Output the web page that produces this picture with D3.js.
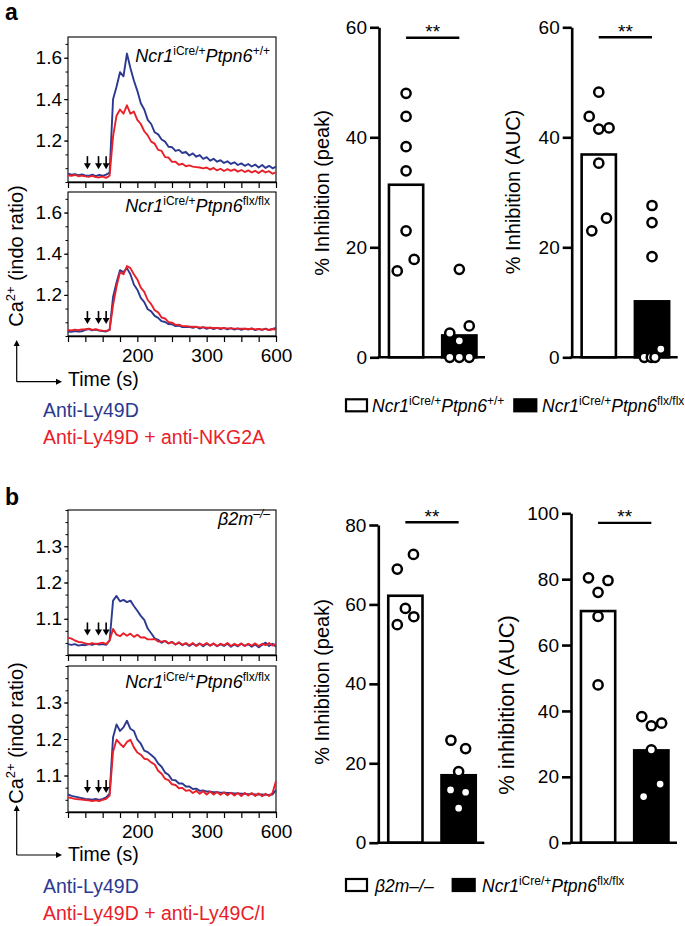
<!DOCTYPE html>
<html><head><meta charset="utf-8">
<script src="https://cdn.jsdelivr.net/npm/d3@7"></script>
<style>
body{margin:0;background:#fff}
svg text{font-family:"Liberation Sans",Arial,Helvetica,sans-serif;fill:#000}
</style>
</head><body>
<svg id="c" width="685" height="926"></svg>
<script>
// ---------- DATA ----------
const times = [100,105,110,115,120,125,130,135,140,145,150,155,160,165,170,175,180,185,190,195,200,205,210,215,220,225,230,235,240,245,250,255,260,265,270,275,280,285,290,295,300,305,310,315,320,325,330,335,340,345,350,355,360,365,370,375,380,385,390,395,400];

const aTopBlue = [1.040,1.035,1.038,1.033,1.036,1.032,1.030,1.035,1.028,1.034,1.030,1.036,1.045,1.40,1.46,1.53,1.51,1.62,1.55,1.49,1.44,1.38,1.35,1.30,1.28,1.24,1.23,1.205,1.195,1.17,1.168,1.15,1.155,1.14,1.145,1.128,1.138,1.122,1.13,1.112,1.12,1.103,1.112,1.098,1.105,1.092,1.1,1.087,1.095,1.082,1.09,1.078,1.087,1.075,1.084,1.07,1.082,1.068,1.078,1.066,1.074];
const aTopRed = [1.032,1.030,1.034,1.028,1.031,1.027,1.025,1.030,1.024,1.022,1.026,1.020,1.030,1.22,1.32,1.35,1.33,1.37,1.33,1.34,1.30,1.28,1.245,1.225,1.195,1.185,1.155,1.15,1.12,1.118,1.097,1.098,1.083,1.088,1.076,1.08,1.074,1.072,1.07,1.066,1.07,1.06,1.068,1.056,1.064,1.053,1.062,1.054,1.061,1.05,1.058,1.048,1.056,1.046,1.054,1.043,1.056,1.046,1.052,1.04,1.046];
const aBotBlue = [1.022,1.020,1.024,1.021,1.023,1.030,1.034,1.028,1.031,1.026,1.024,1.022,1.030,1.19,1.26,1.32,1.31,1.33,1.30,1.25,1.225,1.185,1.165,1.13,1.12,1.098,1.088,1.072,1.068,1.058,1.057,1.048,1.05,1.043,1.045,1.044,1.04,1.045,1.036,1.043,1.035,1.041,1.034,1.04,1.033,1.039,1.032,1.038,1.031,1.037,1.03,1.036,1.031,1.037,1.029,1.035,1.03,1.036,1.029,1.034,1.039];
const aBotRed = [1.030,1.027,1.031,1.028,1.032,1.033,1.036,1.030,1.033,1.028,1.026,1.025,1.030,1.15,1.24,1.31,1.30,1.34,1.33,1.30,1.275,1.235,1.215,1.175,1.155,1.125,1.115,1.09,1.085,1.067,1.065,1.054,1.055,1.048,1.048,1.046,1.045,1.044,1.042,1.042,1.04,1.04,1.039,1.039,1.038,1.038,1.037,1.037,1.036,1.036,1.035,1.035,1.034,1.035,1.032,1.034,1.031,1.035,1.029,1.034,1.03];
const bTopBlue = [1.030,1.028,1.030,1.026,1.028,1.027,1.030,1.028,1.031,1.029,1.030,1.028,1.040,1.150,1.163,1.148,1.152,1.146,1.150,1.135,1.122,1.108,1.097,1.073,1.060,1.046,1.042,1.034,1.039,1.032,1.036,1.029,1.034,1.027,1.032,1.025,1.031,1.026,1.032,1.024,1.031,1.026,1.031,1.024,1.030,1.025,1.031,1.023,1.029,1.024,1.031,1.025,1.030,1.023,1.029,1.021,1.028,1.034,1.025,1.031,1.023];
const bTopRed = [1.048,1.045,1.040,1.036,1.035,1.032,1.030,1.033,1.030,1.032,1.034,1.030,1.040,1.072,1.056,1.052,1.060,1.053,1.059,1.050,1.056,1.048,1.049,1.043,1.043,1.044,1.037,1.037,1.039,1.032,1.036,1.029,1.035,1.028,1.033,1.027,1.033,1.025,1.031,1.027,1.033,1.026,1.032,1.025,1.031,1.027,1.033,1.025,1.031,1.026,1.032,1.025,1.031,1.026,1.032,1.025,1.031,1.027,1.033,1.026,1.031];
const bBotBlue = [1.048,1.044,1.042,1.040,1.038,1.036,1.035,1.034,1.036,1.033,1.036,1.040,1.050,1.205,1.240,1.222,1.232,1.250,1.228,1.222,1.198,1.187,1.168,1.164,1.156,1.148,1.133,1.124,1.108,1.102,1.088,1.087,1.078,1.078,1.07,1.07,1.063,1.064,1.058,1.059,1.056,1.056,1.054,1.054,1.053,1.053,1.052,1.052,1.051,1.051,1.05,1.05,1.049,1.049,1.048,1.048,1.048,1.047,1.047,1.048,1.06];
const bBotRed = [1.040,1.038,1.036,1.035,1.034,1.033,1.032,1.030,1.032,1.030,1.033,1.036,1.045,1.165,1.198,1.187,1.178,1.192,1.198,1.177,1.163,1.157,1.146,1.144,1.136,1.13,1.113,1.105,1.091,1.087,1.076,1.074,1.065,1.066,1.058,1.06,1.052,1.058,1.05,1.057,1.048,1.056,1.048,1.055,1.047,1.054,1.046,1.053,1.045,1.052,1.044,1.052,1.045,1.052,1.044,1.051,1.043,1.05,1.044,1.052,1.085];

const arrowTimes = [128, 144, 155];
const xTickValues = [200, 300, 400];
const xTickLabels = ["200", "300", "600"];
const aYTicks = [1.2, 1.4, 1.6];
const bYTicks = [1.1, 1.2, 1.3];

const groups = ["ctrl", "ko"];
const aPeakCtrl = [48.0, 43.8, 38.3, 33.9, 23.0, 15.7, 17.8];
const aPeakKO   = [16.0, 5.7, 4.4, 3.0, 0, 0, 0];
const aPeakMeans = [31.6, 4.2];
const aAucCtrl = [48.2, 43.8, 41.5, 41.7, 35.3, 25.3, 23.0];
const aAucKO   = [27.6, 24.5, 18.3, 1.5, 0, 0, 0];
const aAucMeans = [37.1, 10.4];
const bPeakCtrl = [68.9, 72.6, 59.0, 54.9, 56.9];
const bPeakKO   = [25.8, 23.7, 17.9, 13.3, 12.7, 8.7];
const bPeakMeans = [62.5, 17.3];
const bAucCtrl = [80.4, 79.6, 76.0, 68.7, 47.9];
const bAucKO   = [38.3, 35.5, 36.3, 28.2, 17.8, 14.0];
const bAucMeans = [70.7, 28.4];
const aBarTicks = [0, 20, 40, 60];
const bPeakTicks = [0, 20, 40, 60, 80];
const bAucTicks = [0, 20, 40, 60, 80, 100];
const sigLabel = "**";

// ---------- LAYOUT (not data) ----------
const jit = {
  aPeakCtrl: [0,0,0,0,0,-0.24,0.22], aPeakKO: [0,0.27,-0.26,0,-0.26,0,0.27],
  aAucCtrl: [0,-0.26,0,0.28,0,0.21,-0.19], aAucKO: [0,0,0,0.24,-0.21,-0.02,0.08],
  bPeakCtrl: [-0.22,0.22,0,-0.22,0.23], bPeakKO: [-0.21,0.19,0,-0.22,0.19,0],
  bAucCtrl: [-0.26,0.27,0,0,0], bAucKO: [-0.26,0,0.28,0,0.24,-0.21]
};
const BLUE = "#2b3990", RED = "#e8202a";
const svg = d3.select("#c");

function styleAxisText(g, size) {
  g.selectAll("text").attr("font-size", size).attr("font-family", '"Liberation Sans",Arial,sans-serif').attr("fill", "#000");
  g.attr("font-family", null).attr("font-size", null);
}

function richText(parent, x, y, parts, opts) {
  const t = parent.append("text").attr("x", x).attr("y", y)
    .attr("text-anchor", opts.anchor || "start").attr("font-size", opts.size);
  let shift = 0;
  parts.forEach(p => {
    const ts = t.append("tspan").text(p.t);
    if (p.it) ts.attr("font-style", "italic");
    const target = p.sup ? -opts.sup : 0;
    if (target !== shift) { ts.attr("dy", target - shift); shift = target; }
    if (p.sup) ts.attr("font-size", opts.supSize);
  });
  return t;
}

const ncrWT = [{t:"Ncr1",it:true},{t:"iCre/+",sup:true},{t:"Ptpn6",it:true},{t:"+/+",sup:true}];
const ncrKO = [{t:"Ncr1",it:true},{t:"iCre/+",sup:true},{t:"Ptpn6",it:true},{t:"flx/flx",sup:true}];
const b2mSup = [{t:"β2m",it:true},{t:"–/–",sup:true,it:true}];

function tracePanel(o) {
  const g = svg.append("g");
  const x = d3.scaleLinear().domain([100, 400]).range([68, 276]);
  const y = d3.scaleLinear().domain(o.domain).range([o.yBot, o.yTop]);
  g.append("rect").attr("x", 68).attr("y", o.yTop).attr("width", 208).attr("height", o.yBot - o.yTop)
    .attr("fill", "none").attr("stroke", "#000").attr("stroke-width", 1.1);
  const minor = d3.range(o.domain[0], o.domain[1] + 1e-9, o.minorStep);
  const gm = g.append("g").attr("transform", "translate(68,0)")
    .call(d3.axisLeft(y).tickValues(minor).tickSize(2.5).tickSizeOuter(0).tickFormat(""));
  gm.select(".domain").remove();
  const gy = g.append("g").attr("transform", "translate(68,0)")
    .call(d3.axisLeft(y).tickValues(o.yTicks).tickSize(4).tickPadding(2).tickFormat(d3.format(".1f")));
  gy.select(".domain").remove();
  styleAxisText(gy, 19);
  const gx = g.append("g").attr("transform", `translate(0,${o.yBot})`)
    .call(d3.axisBottom(x).tickValues(d3.range(100, 401, 25)).tickSize(6).tickSizeOuter(0).tickPadding(7)
      .tickFormat(d => { const i = xTickValues.indexOf(d); return (o.showX && i >= 0) ? xTickLabels[i] : ""; }));
  gx.select(".domain").attr("stroke-width", 1.5);
  gx.selectAll(".tick line").attr("stroke-width", 1.2);
  styleAxisText(gx, 19);
  const line = d3.line().x((d, i) => x(times[i])).y(d => y(d));
  g.append("path").datum(o.blue).attr("d", line).attr("fill", "none").attr("stroke", BLUE).attr("stroke-width", 1.9).attr("stroke-linejoin","round");
  g.append("path").datum(o.red).attr("d", line).attr("fill", "none").attr("stroke", RED).attr("stroke-width", 1.9).attr("stroke-linejoin","round");
  arrowTimes.forEach(t => {
    const ax = x(t), tip = y(o.arrowVal);
    g.append("line").attr("x1", ax).attr("x2", ax).attr("y1", tip - 13).attr("y2", tip - 4)
      .attr("stroke", "#000").attr("stroke-width", 1.6);
    g.append("path").attr("d", `M${ax-3.5},${tip-6}L${ax+3.5},${tip-6}L${ax},${tip}Z`).attr("fill", "#000");
  });
  richText(g, 270, o.labelY, o.label, {anchor: "end", size: 18, supSize: 12, sup: 7});
}

tracePanel({yTop: 37, yBot: 182, domain: [1.0, 1.7], yTicks: aYTicks, minorStep: 0.2/3, blue: aTopBlue, red: aTopRed, showX: false, arrowVal: 1.062, label: ncrWT, labelY: 62});
tracePanel({yTop: 192, yBot: 336, domain: [1.0, 1.7], yTicks: aYTicks, minorStep: 0.2/3, blue: aBotBlue, red: aBotRed, showX: true, arrowVal: 1.058, label: ncrKO, labelY: 212});
tracePanel({yTop: 510, yBot: 655, domain: [1.0, 1.4], yTicks: bYTicks, minorStep: 0.1/3, blue: bTopBlue, red: bTopRed, showX: false, arrowVal: 1.054, label: b2mSup, labelY: 525});
tracePanel({yTop: 666, yBot: 812, domain: [1.0, 1.4], yTicks: bYTicks, minorStep: 0.1/3, blue: bBotBlue, red: bBotRed, showX: true, arrowVal: 1.052, label: ncrKO, labelY: 688});

function traceSide(cy, arrowTop, arrowY, timeY, legY1, legY2, redText) {
  const g = svg.append("g");
  const t = g.append("text").attr("transform", `translate(23,${cy}) rotate(-90)`).attr("text-anchor", "middle").attr("font-size", 20);
  t.append("tspan").text("Ca");
  t.append("tspan").text("2+").attr("font-size", 13).attr("dy", -8);
  t.append("tspan").text(" (indo ratio)").attr("dy", 8);
  g.append("line").attr("x1", 16.7).attr("x2", 16.7).attr("y1", arrowY).attr("y2", arrowTop + 4).attr("stroke", "#000").attr("stroke-width", 1.2);
  g.append("path").attr("d", `M${16.7-3},${arrowTop+6}L${16.7+3},${arrowTop+6}L16.7,${arrowTop}Z`).attr("fill", "#000");
  g.append("line").attr("x1", 16.7).attr("x2", 58).attr("y1", arrowY).attr("y2", arrowY).attr("stroke", "#000").attr("stroke-width", 1.2);
  g.append("path").attr("d", `M56,${arrowY-3}L56,${arrowY+3}L62,${arrowY}Z`).attr("fill", "#000");
  g.append("text").attr("x", 68).attr("y", timeY).attr("font-size", 19.5).text("Time (s)");
  g.append("text").attr("x", 43).attr("y", legY1).attr("font-size", 19.5).style("fill", BLUE).text("Anti-Ly49D");
  g.append("text").attr("x", 43).attr("y", legY2).attr("font-size", 19.5).style("fill", RED).text(redText);
}
traceSide(256, 340, 381.7, 386, 417, 444, "Anti-Ly49D + anti-NKG2A");
traceSide(733, 805, 855, 861, 893, 920, "Anti-Ly49D + anti-Ly49C/I");

svg.append("text").attr("x", 5).attr("y", 20).attr("font-size", 23).attr("font-weight", "bold").text("a");
svg.append("text").attr("x", 5).attr("y", 505).attr("font-size", 23).attr("font-weight", "bold").text("b");

function barChart(o) {
  const g = svg.append("g");
  const y = d3.scaleLinear().domain([0, o.max]).range([o.y0, o.yTop]);
  const x = d3.scaleBand().domain(groups).range([o.ax + 8.7, o.ax + 98.7]).paddingInner(0.31);
  const bw = x.bandwidth();
  g.selectAll("rect.bar").data(o.means).join("rect").attr("class", "bar")
    .attr("x", (d, i) => x(groups[i]) + 1.25).attr("width", bw - 2.5)
    .attr("y", d => y(d) + 1.25).attr("height", d => y(0) - y(d) - 1.25)
    .attr("fill", (d, i) => i === 0 ? "#fff" : "#000").attr("stroke", "#000").attr("stroke-width", 2.6);
  const gy = g.append("g").attr("transform", `translate(${o.ax},0)`)
    .call(d3.axisLeft(y).tickValues(o.ticks).tickSize(9).tickSizeOuter(0).tickPadding(3));
  gy.select(".domain").attr("stroke-width", 2.6);
  gy.selectAll(".tick line").attr("stroke-width", 2.6);
  styleAxisText(gy, 19);
  g.append("line").attr("x1", o.ax - 1.3).attr("x2", o.ax + 106).attr("y1", y(0)).attr("y2", y(0))
    .attr("stroke", "#000").attr("stroke-width", 2.6);
  [o.ctrl, o.ko].forEach((vals, gi) => {
    const jj = o.jit[gi];
    g.selectAll(null).data(vals).join("circle")
      .attr("cx", (d, i) => x(groups[gi]) + bw / 2 + jj[i] * bw)
      .attr("cy", d => y(d)).attr("r", 4.6)
      .attr("fill", "#fff").attr("stroke", "#000").attr("stroke-width", 2.5);
  });
  const sy = y(o.sig);
  const c1 = x(groups[0]) + bw / 2, c2 = x(groups[1]) + bw / 2;
  g.append("line").attr("x1", c1).attr("x2", c2).attr("y1", sy).attr("y2", sy).attr("stroke", "#000").attr("stroke-width", 2.4);
  g.append("text").attr("x", (c1 + c2) / 2).attr("y", sy + 0.5).attr("text-anchor", "middle").attr("font-size", 19).text(sigLabel);
  g.append("text").attr("transform", `translate(${o.labX},${o.labY}) rotate(-90)`).attr("text-anchor", "middle")
    .attr("font-size", o.labSize).text(o.label);
}

barChart({ax: 379, y0: 357.3, yTop: 27.3, max: 60, ticks: aBarTicks, means: aPeakMeans, ctrl: aPeakCtrl, ko: aPeakKO,
  jit: [jit.aPeakCtrl, jit.aPeakKO], sig: 58.1, label: "% Inhibition (peak)", labX: 329, labY: 193, labSize: 20});
barChart({ax: 571.7, y0: 357.3, yTop: 27.3, max: 60, ticks: aBarTicks, means: aAucMeans, ctrl: aAucCtrl, ko: aAucKO,
  jit: [jit.aAucCtrl, jit.aAucKO], sig: 58.2, label: "% Inhibition (AUC)", labX: 520, labY: 192, labSize: 20});
barChart({ax: 378.3, y0: 842.7, yTop: 525, max: 80, ticks: bPeakTicks, means: bPeakMeans, ctrl: bPeakCtrl, ko: bPeakKO,
  jit: [jit.bPeakCtrl, jit.bPeakKO], sig: 80.7, label: "% Inhibition (peak)", labX: 329, labY: 682, labSize: 20});
barChart({ax: 571, y0: 842.7, yTop: 513.3, max: 100, ticks: bAucTicks, means: bAucMeans, ctrl: bAucCtrl, ko: bAucKO,
  jit: [jit.bAucCtrl, jit.bAucKO], sig: 97.1, label: "% inhibition (AUC)", labX: 514, labY: 705, labSize: 22});

function legend(yTop, items) {
  const g = svg.append("g");
  items.forEach(it => {
    g.append("rect").attr("x", it.rx + 1).attr("y", yTop + 1).attr("width", it.rw - 2).attr("height", 12)
      .attr("fill", it.fill).attr("stroke", "#000").attr("stroke-width", 2.2);
    richText(g, it.tx, yTop + 13.5, it.parts, {size: 17.5, supSize: 12, sup: 7});
  });
}
legend(398.3, [
  {rx: 345, rw: 23, fill: "#fff", tx: 372, parts: ncrWT},
  {rx: 513.3, rw: 24, fill: "#000", tx: 542, parts: ncrKO}
]);
legend(878, [
  {rx: 345, rw: 23, fill: "#fff", tx: 375, parts: [{t:"β2m–/–", it:true}]},
  {rx: 451.7, rw: 24, fill: "#000", tx: 482, parts: ncrKO}
]);
</script>
</body></html>
